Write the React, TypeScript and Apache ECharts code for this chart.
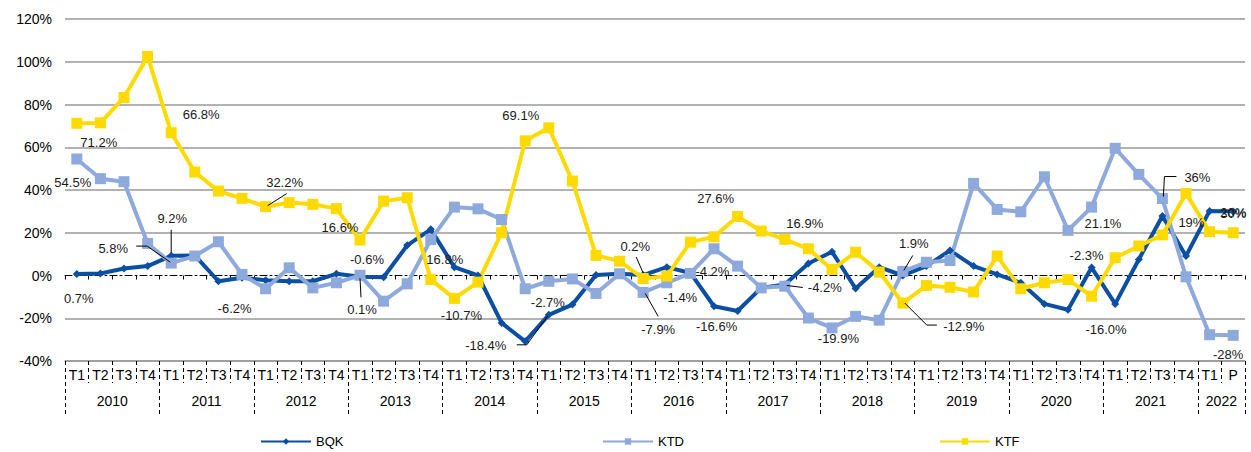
import React, { useEffect, useRef } from "react";
import * as echarts from "echarts";

const quarters = [
  "T1","T2","T3","T4","T1","T2","T3","T4","T1","T2","T3","T4",
  "T1","T2","T3","T4","T1","T2","T3","T4","T1","T2","T3","T4",
  "T1","T2","T3","T4","T1","T2","T3","T4","T1","T2","T3","T4",
  "T1","T2","T3","T4","T1","T2","T3","T4","T1","T2","T3","T4",
  "T1","P",
];
const years = ["2010","2011","2012","2013","2014","2015","2016","2017","2018","2019","2020","2021","2022"];

const bqk = [0.7, 0.9, 3.3, 4.4, 9.2, 9.4, -2.7, -1.1, -2.2, -2.7, -2.7, 0.8, -0.6, -0.8, 14.1, 21.6, 3.9, 0.0, -22.2, -30.8, -18.4, -13.6, 0.2, 0.8, 0.2, 3.9, 1.2, -14.4, -16.6, -5.8, -4.2, 5.6, 11.1, -6.1, 3.9, 0.0, 4.4, 11.7, 4.4, 0.5, -3.4, -13.3, -16.0, 3.7, -13.3, 7.5, 27.8, 9.1, 30.2, 30.0];
const ktd = [54.5, 45.3, 43.9, 15.0, 5.8, 9.1, 15.8, 0.5, -6.2, 3.6, -5.8, -3.4, 0.1, -12.0, -3.9, 16.8, 32.0, 31.2, 26.2, -6.2, -2.7, -1.6, -8.4, 0.8, -7.9, -3.4, 1.0, 12.5, 4.4, -5.8, -5.0, -19.9, -24.5, -19.1, -20.9, 1.9, 6.2, 7.0, 43.1, 30.9, 29.8, 46.2, 21.1, 32.0, 59.5, 47.3, 36.0, -0.6, -27.7, -28.0];
const ktf = [71.2, 71.4, 83.3, 102.5, 66.8, 48.4, 39.5, 36.1, 32.2, 34.1, 33.3, 31.3, 16.6, 34.8, 36.4, -1.9, -10.7, -3.1, 20.0, 63.0, 69.1, 44.2, 9.4, 6.7, -1.4, -0.3, 15.6, 18.1, 27.6, 20.8, 16.9, 12.5, 2.8, 10.9, 1.6, -12.9, -4.7, -5.5, -7.7, 9.1, -6.2, -3.4, -1.9, -9.7, 8.3, 13.8, 19.0, 38.4, 20.5, 20.0];

const seriesNames = ["BQK", "KTD", "KTF"];

// annotation texts shown in the reference: [seriesIndex, pointIndex, text]
const labelTexts: [number, number, string][] = [
  [2, 0, "71.2%"], [1, 0, "54.5%"], [2, 4, "66.8%"], [2, 8, "32.2%"], [0, 4, "9.2%"],
  [1, 4, "5.8%"], [0, 0, "0.7%"], [1, 8, "-6.2%"], [2, 12, "16.6%"], [0, 12, "-0.6%"],
  [1, 12, "0.1%"], [1, 15, "16.8%"], [2, 16, "-10.7%"], [2, 20, "69.1%"], [0, 20, "-18.4%"],
  [1, 20, "-2.7%"], [0, 24, "0.2%"], [1, 24, "-7.9%"], [2, 24, "-1.4%"], [1, 26, "-4.2%"],
  [2, 28, "27.6%"], [0, 28, "-16.6%"], [2, 30, "16.9%"], [0, 30, "-4.2%"], [1, 31, "-19.9%"],
  [1, 35, "1.9%"], [2, 35, "-12.9%"], [1, 42, "21.1%"], [0, 43, "-2.3%"], [0, 42, "-16.0%"],
  [1, 46, "36%"], [2, 46, "19%"], [0, 49, "30%"], [2, 49, "20%"], [1, 49, "-28%"],
];

// label placement (offset from the point) and leader line shapes, same order as labelTexts
const labelOffsets: number[][] = [
  [22, 19], [-4, 23], [30, -18], [19, -24], [1, -37],
  [-58, -15], [2, 24], [-31, 20], [-20, -13], [7, -17],
  [2, 34], [14, 20], [7, 17], [-28, -12], [-63, 31],
  [-1, 21], [-8, -29], [15, 37], [37, 19], [22, -2],
  [-22, -18], [-21, 16], [20, -16], [40, 3], [30, 20],
  [11, -28], [61, 23], [35, -7], [-5, -12], [38, 20],
  [35, -21], [29, -12], [0, 2], [0, -20], [-5, 19],
];
const leaders: { [k: number]: number[][] } = {
  3: [[21, -13], [2, -1]],
  4: [[0, -26], [0, -3]],
  5: [[-35, -17], [-24, -17], [-1, -1]],
  10: [[1, 22], [0, 3]],
  14: [[-32, 30], [-22, 30], [-1, 1]],
  16: [[-7, -18], [0, -2]],
  17: [[15, 24], [2, 1]],
  23: [[18, 3], [2, 1]],
  25: [[10, -16], [1, -1]],
  26: [[2, 0], [24, 22], [34, 22]],
  30: [[14, -22], [2, -22], [1, -2]],
};

const FONT = "'Liberation Sans', Arial, sans-serif";
const colors = ["#0A4FA3", "#8EAADC", "#FFDA00"];

export default function App() {
  const ref = useRef<HTMLDivElement>(null);
  useEffect(() => {
    if (!ref.current) return;
    const chart = echarts.init(ref.current, undefined, { renderer: "svg" });
    const raw = [bqk, ktd, ktf];
    const dataSets = raw.map((arr, si) =>
      arr.map((v, i) => {
        const k = labelTexts.findIndex((l) => l[0] === si && l[1] === i);
        if (k < 0) return v;
        return {
          value: v,
          label: {
            show: true,
            position: "inside",
            offset: labelOffsets[k],
            formatter: labelTexts[k][2],
            fontSize: 13,
            color: "#1a1a1a",
            fontFamily: FONT,
          },
        };
      })
    );
    const symbols = ["diamond", "rect", "rect"];
    const sizes = [8, 11, 11];
    const series = seriesNames.map((name, si) => ({
      name,
      type: "line",
      xAxisIndex: 0,
      yAxisIndex: 0,
      data: dataSets[si],
      symbol: symbols[si],
      symbolSize: sizes[si],
      showAllSymbol: true,
      lineStyle: { color: colors[si], width: 4 },
      itemStyle: { color: colors[si] },
      label: { show: false },
      emphasis: { disabled: true },
    }));
    const legendLefts = [255, 597, 934];
    chart.setOption({
      animation: false,
      textStyle: { fontFamily: FONT },
      grid: { left: 65, right: 6, top: 19, bottom: 91, containLabel: false },
      legend: seriesNames.map((n, i) => ({
        data: [n],
        left: legendLefts[i],
        top: 430,
        itemWidth: 50,
        itemHeight: 8,
        itemGap: 3,
        textStyle: { fontSize: 13, color: "#000", fontFamily: FONT },
        selectedMode: false,
      })),
      xAxis: [
        {
          type: "category",
          data: quarters,
          boundaryGap: true,
          axisLine: { onZero: true, lineStyle: { color: "#000", width: 1, type: [7, 3, 2, 3] } },
          axisTick: { show: true, length: 4, lineStyle: { color: "#000", width: 1 } },
          axisLabel: { show: false },
          splitLine: { show: false },
        },
        {
          type: "category",
          data: quarters,
          position: "bottom",
          offset: 0,
          boundaryGap: true,
          axisLine: { onZero: false, lineStyle: { color: "#999", width: 1.5 } },
          axisTick: { show: true, length: 22, lineStyle: { color: "#000", width: 1, type: [4, 3] } },
          axisLabel: { interval: 0, fontSize: 14, color: "#000", margin: 7, fontFamily: FONT },
        },
        {
          type: "category",
          data: quarters,
          position: "bottom",
          offset: 0,
          boundaryGap: true,
          axisLine: { show: false, onZero: false },
          axisTick: {
            show: true,
            length: 54,
            interval: (i: number) => i % 4 === 0,
            lineStyle: { color: "#000", width: 1, type: [4, 3] },
          },
          axisLabel: {
            interval: (i: number) => i % 4 === 1 || i === 48,
            formatter: (_v: string, i: number) => `{a|${years[Math.floor(i / 4)]}}`,
            margin: 33,
            rich: { a: { fontSize: 14, color: "#000", padding: [0, 0, 0, 23.6], fontFamily: FONT } },
          },
        },
      ],
      yAxis: {
        type: "value",
        min: -40,
        max: 120,
        interval: 20,
        axisLine: { show: false },
        axisTick: { show: false },
        axisLabel: { formatter: "{value}%", fontSize: 14, color: "#000", margin: 13, fontFamily: FONT },
        splitLine: {
          show: true,
          lineStyle: {
            color: ["#999", "#999", "rgba(0,0,0,0)", "#999", "#999", "#999", "#999", "#999", "#999"],
            width: 1.5,
          },
        },
      },
      series,
    });

    const graphics: any[] = [];
    Object.keys(leaders).forEach((key) => {
      const k = Number(key);
      const [si, idx] = labelTexts[k];
      const p = chart.convertToPixel({ xAxisIndex: 0, yAxisIndex: 0 }, [idx, raw[si][idx]]) as number[];
      graphics.push({
        type: "polyline",
        z: 10,
        shape: { points: leaders[k].map((d) => [p[0] + d[0], p[1] + d[1]]) },
        style: { stroke: "#000", lineWidth: 1, fill: "none" },
        silent: true,
      });
    });
    chart.setOption({ graphic: graphics });
    return () => chart.dispose();
  }, []);
  return (
    <div
      ref={ref}
      style={{ position: "absolute", left: 0, top: 0, width: 1251, height: 452, background: "#fff" }}
    />
  );
}
